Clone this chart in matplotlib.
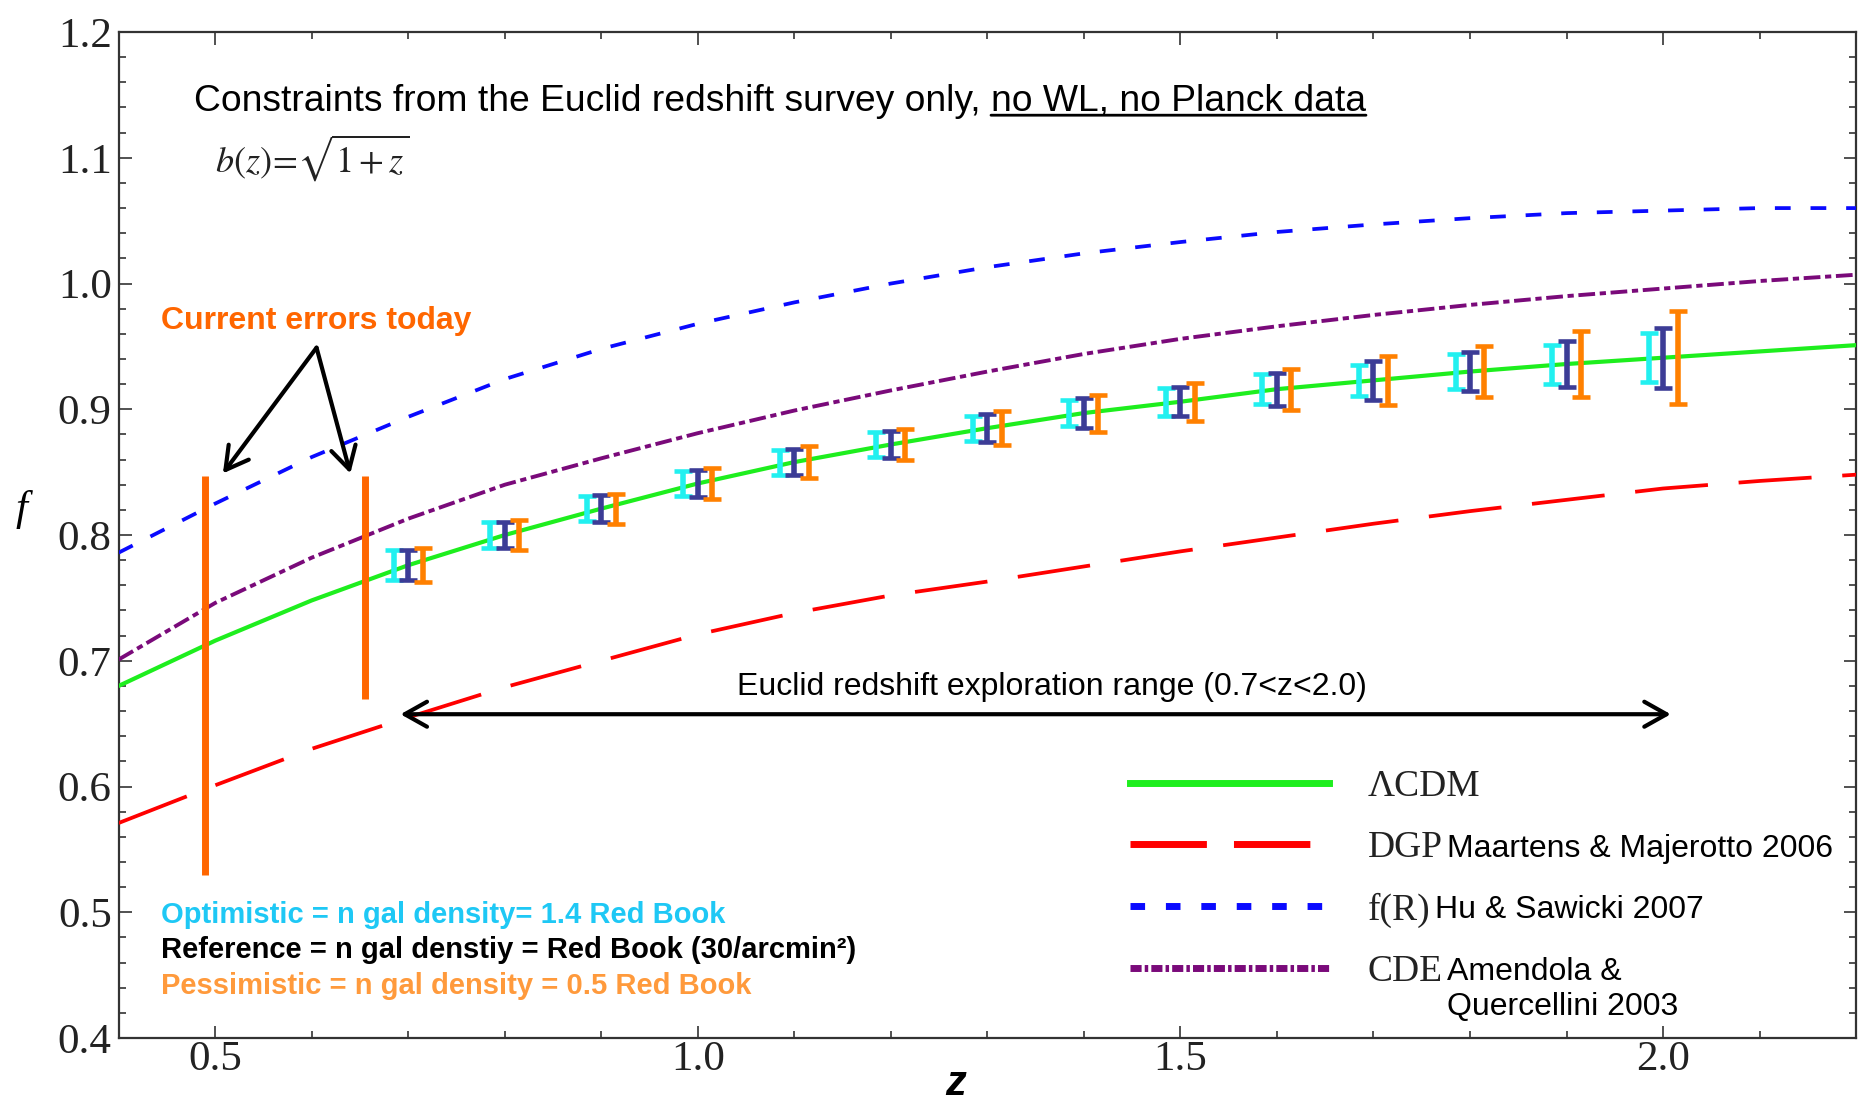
import matplotlib
matplotlib.use("Agg")
import matplotlib.pyplot as plt
from matplotlib.lines import Line2D
from matplotlib.ticker import MultipleLocator, FormatStrFormatter

# growth rate f(z), one value per 0.1 in z
z = [0.4, 0.5, 0.6, 0.7, 0.8, 0.9, 1.0, 1.1, 1.2, 1.3, 1.4, 1.5, 1.6, 1.7, 1.8, 1.9, 2.0, 2.1, 2.2]
f_lcdm = [0.680, 0.716, 0.748, 0.776, 0.800, 0.821, 0.841, 0.858, 0.872, 0.885, 0.897, 0.906,
          0.916, 0.923, 0.930, 0.936, 0.941, 0.946, 0.951]
f_dgp = [0.571, 0.601, 0.630, 0.655, 0.679, 0.700, 0.721, 0.738, 0.752, 0.763, 0.775, 0.787,
         0.798, 0.809, 0.819, 0.828, 0.837, 0.843, 0.848]
f_fr = [0.786, 0.825, 0.862, 0.894, 0.924, 0.948, 0.968, 0.985, 1.000, 1.013, 1.024, 1.033,
        1.041, 1.047, 1.052, 1.056, 1.058, 1.060, 1.060]
f_cde = [0.701, 0.746, 0.782, 0.813, 0.840, 0.861, 0.881, 0.899, 0.915, 0.930, 0.944, 0.956,
         0.966, 0.975, 0.983, 0.990, 0.996, 1.002, 1.007]

# Euclid forecast error bars (half widths) at z = 0.7 ... 2.0
bar_z = z[3:17]
bar_f = f_lcdm[3:17]
err_opt = [0.012, 0.0106, 0.010, 0.010, 0.010, 0.010, 0.010, 0.0103, 0.0113, 0.0117, 0.0126, 0.014, 0.0155, 0.0195]
err_ref = [0.012, 0.0106, 0.0105, 0.0105, 0.0105, 0.0106, 0.011, 0.0117, 0.0117, 0.0132, 0.0155, 0.0157, 0.0185, 0.024]
err_pes = [0.0134, 0.012, 0.012, 0.012, 0.0125, 0.0125, 0.0134, 0.0147, 0.0152, 0.0164, 0.0193, 0.0205, 0.0265, 0.037]

# current measurements
cur_z = [0.489, 0.655]
cur_lo = [0.530, 0.670]
cur_hi = [0.847, 0.847]

legend_names = ["\u039bCDM", "DGP", "f(R)", "CDE"]
legend_refs = ["Maartens & Majerotto 2006", "Hu & Sawicki 2007", "Amendola &\nQuercellini 2003"]

plt.rcParams["font.family"] = "Liberation Serif"
plt.rcParams["mathtext.fontset"] = "stix"

fig = plt.figure(figsize=(18.6, 11.01), dpi=100)
ax = fig.add_axes([0.0638, 0.0572, 0.9341, 0.9137])

ax.plot(z, f_lcdm, color="#1EEE1E", lw=3, zorder=3)
ax.plot(z, f_dgp, color="#FF0000", lw=2.7, dashes=(19.5, 8.2), zorder=3)
ax.plot(z, f_fr, color="#0A0AFF", lw=2.7, dashes=(4.2, 5.3), zorder=3)
ax.plot(z, f_cde, color="#7A0A7A", lw=2.8, dashes=(4.3, 1.2, 1.6, 1.2), zorder=3)

off = 0.015
for dz, err, col in [(-off, err_opt, "#22F0F0"), (0.0, err_ref, "#3C3C96"), (off, err_pes, "#FF8000")]:
    ax.errorbar([b + dz for b in bar_z], bar_f, yerr=err, fmt="none", ecolor=col,
                elinewidth=4, capsize=6.5, capthick=3.3, zorder=4)

ax.vlines(cur_z, cur_lo, cur_hi, color="#FF6600", lw=5, zorder=4)

arr = dict(arrowstyle="->,head_length=0.8,head_width=0.45", lw=3, color="k",
           shrinkA=0, shrinkB=0, mutation_scale=20)
ax.annotate("", xy=(0.508, 0.849), xytext=(0.605, 0.949), arrowprops=arr)
ax.annotate("", xy=(0.640, 0.849), xytext=(0.605, 0.949), arrowprops=arr)
ax.text(0.444, 0.970, "Current errors today", color="#FF6600", fontsize=23,
        fontweight="bold", family="Liberation Sans", va="center", ha="left")

arr2 = dict(arrowstyle="<->,head_length=0.8,head_width=0.45", lw=3, color="k",
            shrinkA=0, shrinkB=0, mutation_scale=20)
ax.annotate("", xy=(0.692, 0.6575), xytext=(2.008, 0.6575), arrowprops=arr2)
ax.text(1.041, 0.679, "Euclid redshift exploration range (0.7<z<2.0)", fontsize=23,
        family="Liberation Sans", va="center", ha="left")

t1 = ax.text(0.478, 1.145, "Constraints from the Euclid redshift survey only,", fontsize=26.8,
             family="Liberation Sans", va="center", ha="left")
t2 = ax.annotate("no WL, no Planck data", xy=(1, 0), xycoords=t1, xytext=(7.5, 0),
                 textcoords="offset points", fontsize=26.8, family="Liberation Sans",
                 va="bottom", ha="left")
ax.annotate("", xy=(0, 0.1), xycoords=t2, xytext=(1, 0.1), textcoords=t2,
            arrowprops=dict(arrowstyle="-", lw=2, color="k", shrinkA=0, shrinkB=0))
ax.text(0.500, 1.100, r"$b(z)\!=\!\sqrt{\mathit{1}+z}$", fontsize=26, color="#222222",
        va="center", ha="left")

notes = [("Optimistic = n gal density= 1.4 Red Book", "#1EC8F5", 0.498),
         ("Reference = n gal denstiy = Red Book (30/arcmin\u00b2)", "black", 0.470),
         ("Pessimistic = n gal density = 0.5 Red Book", "#FF9A3C", 0.4415)]
for txt, col, yy in notes:
    ax.text(0.4436, yy, txt, color=col, fontsize=21, fontweight="bold",
            family="Liberation Sans", va="center", ha="left")

handles = [Line2D([], [], color="#1EEE1E", lw=5),
           Line2D([], [], color="#FF0000", lw=5, dashes=(11, 3.9)),
           Line2D([], [], color="#0A0AFF", lw=5, dashes=(2.1, 3.0)),
           Line2D([], [], color="#7A0A7A", lw=5, dashes=(1.6, 0.45, 0.5, 0.45))]
leg = ax.legend(handles, legend_names, loc="upper left", bbox_to_anchor=(0.582, 0.267),
                frameon=False, fontsize=27, handlelength=5.3, handletextpad=1.05,
                labelspacing=0.72, borderpad=0, borderaxespad=0)
for t in leg.get_texts():
    t.set_color("#222222")
ltexts = leg.get_texts()
for k, ref in enumerate(legend_refs):
    ax.annotate(ref, xy=(1, 1), xycoords=ltexts[k + 1], xytext=(3, -2),
                textcoords="offset points", fontsize=23, family="Liberation Sans",
                va="top", ha="left", linespacing=1.2, zorder=6)

ax.set_xlim(0.4, 2.2)
ax.set_ylim(0.4, 1.2)
ax.xaxis.set_major_locator(MultipleLocator(0.5))
ax.xaxis.set_minor_locator(MultipleLocator(0.1))
ax.yaxis.set_major_locator(MultipleLocator(0.1))
ax.yaxis.set_minor_locator(MultipleLocator(0.02))
ax.xaxis.set_major_formatter(FormatStrFormatter("%.1f"))
ax.yaxis.set_major_formatter(FormatStrFormatter("%.1f"))
ax.tick_params(which="both", direction="in", top=True, right=True, width=1.2,
               color="#333333", labelcolor="#222222", labelsize=31)
ax.tick_params(which="major", length=9)
ax.tick_params(which="minor", length=5)
ax.tick_params(axis="y", pad=5)
ax.tick_params(axis="x", pad=2)
for s in ax.spines.values():
    s.set_linewidth(1.6)
    s.set_color("#333333")

ax.set_ylabel("f", rotation=0, fontsize=31, style="italic", ha="center", va="center")
ax.yaxis.set_label_coords(-0.056, 0.525)
ax.set_xlabel("z", fontsize=30, style="italic", fontweight="bold",
              family="Liberation Sans", va="baseline")
ax.xaxis.set_label_coords(0.4815, -0.057)

fig.savefig("out.png", dpi=100)
